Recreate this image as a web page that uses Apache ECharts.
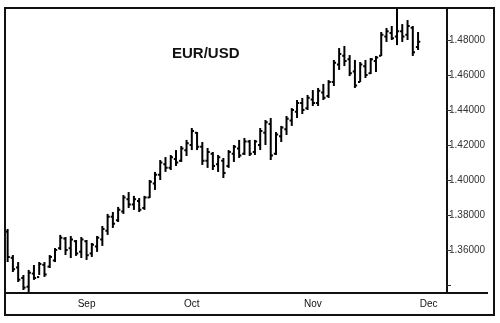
<!DOCTYPE html>
<html>
<head>
<meta charset="utf-8">
<script src="https://cdn.jsdelivr.net/npm/echarts@6/dist/echarts.min.js"></script>
<style>html,body{margin:0;padding:0;background:#fff}#c{width:500px;height:323px}</style>
</head>
<body>
<div id="c"></div>
<script>
// Trading days (2007), Aug 13 .. Dec 6
const dates = [
 'Aug 13','Aug 14','Aug 15','Aug 16','Aug 17','Aug 20','Aug 21','Aug 22','Aug 23','Aug 24','Aug 27','Aug 28','Aug 29','Aug 30','Aug 31',
 'Sep 3','Sep 4','Sep 5','Sep 6','Sep 7','Sep 10','Sep 11','Sep 12','Sep 13','Sep 14','Sep 17','Sep 18','Sep 19','Sep 20','Sep 21','Sep 24','Sep 25','Sep 26','Sep 27','Sep 28',
 'Oct 1','Oct 2','Oct 3','Oct 4','Oct 5','Oct 8','Oct 9','Oct 10','Oct 11','Oct 12','Oct 15','Oct 16','Oct 17','Oct 18','Oct 19','Oct 22','Oct 23','Oct 24','Oct 25','Oct 26','Oct 29','Oct 30','Oct 31',
 'Nov 1','Nov 2','Nov 5','Nov 6','Nov 7','Nov 8','Nov 9','Nov 12','Nov 13','Nov 14','Nov 15','Nov 16','Nov 19','Nov 20','Nov 21','Nov 22','Nov 23','Nov 26','Nov 27','Nov 28','Nov 29','Nov 30',
 'Dec 3','Dec 4','Dec 5','Dec 6'
];
const monthLabels = {'Sep 3':'Sep','Oct 1':'Oct','Nov 1':'Nov','Dec 3':'Dec'};
const yTickLabels = ['1.36000','1.38000','1.40000','1.42000','1.44000','1.46000','1.48000'];

const openV = [1.3705,1.3555,1.3500,1.3440,1.3390,1.3465,1.3445,1.3515,1.3505,1.3540,1.3610,1.3665,1.3610,1.3650,1.3590,
 1.3650,1.3580,1.3620,1.3660,1.3710,1.3790,1.3770,1.3820,1.3890,1.3860,1.3880,1.3840,1.3900,1.3980,1.4030,1.4090,1.4070,1.4120,1.4110,1.4170,
 1.4200,1.4270,1.4190,1.4110,1.4150,1.4090,1.4110,1.4080,1.4150,1.4180,1.4150,1.4220,1.4160,1.4200,1.4270,1.4320,1.4150,1.4250,1.4290,1.4340,1.4390,1.4440,1.4410,
 1.4460,1.4440,1.4500,1.4480,1.4560,1.4660,1.4710,1.4690,1.4620,1.4560,1.4650,1.4610,1.4680,1.4710,1.4820,1.4840,1.4820,1.4850,1.4830,1.4870,1.4760];
const highV = [1.3720,1.3571,1.3531,1.3457,1.3486,1.3514,1.3531,1.3531,1.3571,1.3611,1.3686,1.3674,1.3680,1.3657,1.3674,
 1.3657,1.3640,1.3680,1.3737,1.3806,1.3817,1.3846,1.3914,1.3931,1.3909,1.3897,1.3909,1.4000,1.4046,1.4114,1.4131,1.4143,1.4171,1.4194,1.4229,
 1.4297,1.4274,1.4217,1.4183,1.4160,1.4143,1.4126,1.4171,1.4200,1.4229,1.4240,1.4229,1.4229,1.4297,1.4343,1.4354,1.4274,1.4309,1.4366,1.4411,1.4457,1.4469,1.4486,
 1.4514,1.4526,1.4549,1.4571,1.4686,1.4754,1.4766,1.4714,1.4686,1.4674,1.4686,1.4697,1.4709,1.4846,1.4869,1.4880,1.4980,1.4891,1.4914,1.4880,1.4846];
const lowV = [1.3531,1.3474,1.3417,1.3371,1.3360,1.3429,1.3457,1.3446,1.3497,1.3531,1.3600,1.3571,1.3554,1.3566,1.3554,
 1.3543,1.3560,1.3589,1.3623,1.3686,1.3726,1.3760,1.3806,1.3840,1.3829,1.3817,1.3829,1.3897,1.3943,1.4000,1.4046,1.4057,1.4080,1.4103,1.4137,
 1.4171,1.4171,1.4086,1.4069,1.4057,1.4046,1.4011,1.4069,1.4103,1.4126,1.4143,1.4137,1.4143,1.4171,1.4200,1.4114,1.4143,1.4217,1.4257,1.4309,1.4354,1.4377,1.4400,
 1.4423,1.4423,1.4457,1.4469,1.4537,1.4629,1.4651,1.4594,1.4526,1.4560,1.4583,1.4606,1.4617,1.4709,1.4789,1.4800,1.4771,1.4789,1.4800,1.4709,1.4743];
const closeV = [1.3560,1.3490,1.3430,1.3385,1.3470,1.3440,1.3520,1.3460,1.3560,1.3600,1.3670,1.3600,1.3660,1.3580,1.3660,
 1.3570,1.3630,1.3670,1.3720,1.3790,1.3750,1.3830,1.3900,1.3860,1.3890,1.3830,1.3900,1.3990,1.4030,1.4100,1.4070,1.4130,1.4100,1.4180,1.4210,
 1.4280,1.4190,1.4110,1.4160,1.4080,1.4130,1.4040,1.4160,1.4190,1.4140,1.4220,1.4150,1.4220,1.4280,1.4330,1.4140,1.4260,1.4300,1.4350,1.4400,1.4440,1.4400,1.4470,
 1.4440,1.4510,1.4470,1.4560,1.4670,1.4720,1.4680,1.4610,1.4540,1.4660,1.4600,1.4690,1.4700,1.4830,1.4850,1.4810,1.4850,1.4820,1.4880,1.4730,1.4790];

const ohlc = openV.map((o, i) => [i, o, highV[i], lowV[i], closeV[i]]);

const chart = echarts.init(document.getElementById('c'), null, {renderer: 'canvas'});
const FONT = 'Liberation Sans, Arial, sans-serif';
chart.setOption({
  animation: false,
  backgroundColor: '#fff',
  title: {
    text: 'EUR/USD', left: 172, top: 46, padding: 0,
    textStyle: {fontFamily: FONT, fontSize: 15, fontWeight: 'bold', color: '#111'}
  },
  grid: {left: 5, top: 8, right: 53, bottom: 30},
  xAxis: [{
    type: 'category', data: dates, position: 'bottom', boundaryGap: true,
    axisLine: {lineStyle: {color: '#111', width: 2}},
    axisTick: {alignWithLabel: true, length: 2, lineStyle: {color: '#222', width: 1},
      interval: (idx) => idx % 5 === 0},
    axisLabel: {show: false}, splitLine: {show: false}
  }, {
    type: 'category', data: dates, position: 'bottom', boundaryGap: true,
    axisLine: {show: false},
    axisTick: {alignWithLabel: true, length: 5, lineStyle: {color: '#222', width: 1},
      interval: (idx, v) => !!monthLabels[v]},
    axisLabel: {interval: (idx, v) => !!monthLabels[v], formatter: (v) => monthLabels[v] || '',
      fontFamily: FONT, fontSize: 10, color: '#111', margin: 6},
    splitLine: {show: false}
  }],
  yAxis: {
    type: 'value', position: 'right', min: 1.3354, max: 1.4983,
    minInterval: 0.02, maxInterval: 0.02, splitNumber: 8,
    axisLine: {show: true, lineStyle: {color: '#111', width: 2}},
    axisTick: {show: true, inside: false, length: 4, lineStyle: {color: '#333'}},
    axisLabel: {
      showMinLabel: false, showMaxLabel: false, margin: 2,
      fontFamily: FONT, fontSize: 10, color: '#333',
      formatter: (v) => { const s = v.toFixed(5); return yTickLabels.indexOf(s) >= 0 ? s : ''; }
    },
    splitLine: {show: false}
  },
  series: [{
    type: 'custom', xAxisIndex: 0, clip: true,
    data: ohlc,
    renderItem: (params, api) => {
      const x = api.value(0);
      const pO = api.coord([x, api.value(1)]);
      const pH = api.coord([x, api.value(2)]);
      const pL = api.coord([x, api.value(3)]);
      const pC = api.coord([x, api.value(4)]);
      const t = 2.2;
      const st = {stroke: '#000', lineWidth: 2};
      return {type: 'group', children: [
        {type: 'line', shape: {x1: pH[0], y1: pH[1], x2: pL[0], y2: pL[1]}, style: st},
        {type: 'line', shape: {x1: pO[0] - t, y1: pO[1], x2: pO[0], y2: pO[1]}, style: st},
        {type: 'line', shape: {x1: pC[0], y1: pC[1], x2: pC[0] + t, y2: pC[1]}, style: st}
      ]};
    }
  }],
  graphic: [
    {type: 'rect', shape: {x: 5, y: 8, width: 489, height: 307}, style: {fill: 'none', stroke: '#111', lineWidth: 2}, z: 100},
    {type: 'line', shape: {x1: 447, y1: 293, x2: 488, y2: 293}, style: {stroke: '#111', lineWidth: 2}, z: 100}
  ]
});
</script>
</body>
</html>
